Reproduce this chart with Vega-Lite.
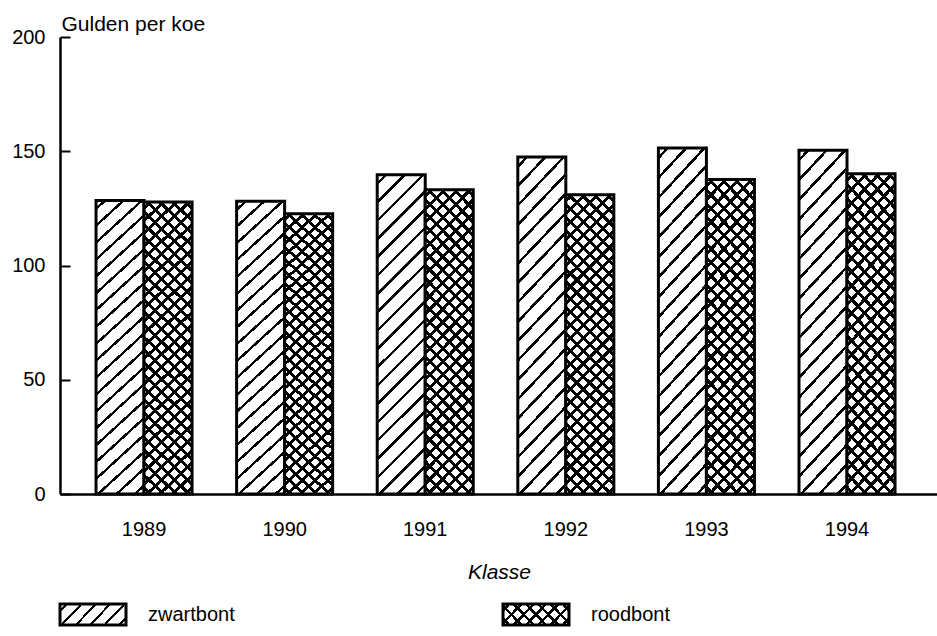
{
  "$schema": "https://vega.github.io/schema/vega-lite/v6.json",
  "padding": {"left": 11, "top": 13, "right": 0, "bottom": 0},
  "background": "white",
  "config": {
    "view": {"stroke": null},
    "font": "Liberation Sans",
    "concat": {"spacing": 20},
    "axis": {"labelColor": "#000", "titleColor": "#000", "domainColor": "#000", "tickColor": "#000", "grid": false}
  },
  "vconcat": [
    {
      "width": 878,
      "height": 457,
      "data": {"values": [
        {"year": "1989", "type": "zwartbont", "value": 128.5},
        {"year": "1989", "type": "roodbont", "value": 127.8},
        {"year": "1990", "type": "zwartbont", "value": 128.1},
        {"year": "1990", "type": "roodbont", "value": 122.7},
        {"year": "1991", "type": "zwartbont", "value": 139.7},
        {"year": "1991", "type": "roodbont", "value": 133.2},
        {"year": "1992", "type": "zwartbont", "value": 147.5},
        {"year": "1992", "type": "roodbont", "value": 131.0},
        {"year": "1993", "type": "zwartbont", "value": 151.4},
        {"year": "1993", "type": "roodbont", "value": 137.6},
        {"year": "1994", "type": "zwartbont", "value": 150.4},
        {"year": "1994", "type": "roodbont", "value": 140.2}
      ]},
      "encoding": {
        "x": {
          "field": "year", "type": "nominal",
          "scale": {"paddingInner": 0.317, "paddingOuter": 0.281, "align": 0.456},
          "axis": {"title": "Klasse", "labelAngle": 0, "ticks": false, "tickSize": 0, "labelPadding": 25, "labelFontSize": 20, "domainWidth": 2.5, "titleFontSize": 21, "titleFontStyle": "italic", "titleFontWeight": "normal", "titlePadding": 22}
        },
        "xOffset": {"field": "type", "type": "nominal", "scale": {"domain": ["zwartbont", "roodbont"], "paddingInner": 0, "paddingOuter": 0}},
        "y": {
          "field": "value", "type": "quantitative",
          "scale": {"domain": [0, 200]},
          "axis": {"values": [0, 50, 100, 150, 200], "title": "Gulden per koe", "titleAngle": 0, "titleAlign": "left", "titleBaseline": "alphabetic", "titleX": 1, "titleY": -7, "titleFontSize": 21, "titleFontWeight": "normal", "labelFontSize": 20, "domainWidth": 2.5, "tickSize": -10, "tickWidth": 2, "labelPadding": 25}
        }
      },
      "layer": [
        {
          "transform": [{"filter": "datum.type === 'zwartbont'"}],
          "mark": {"type": "bar", "stroke": "#000", "strokeWidth": 3, "fill": {"gradient": "linear", "x1": 0, "y1": 0, "x2": 0.1687, "y2": 1.1248, "stops": [
            {"offset": 0, "color": "#fff"},
            {"offset": 0.0202, "color": "#fff"}, {"offset": 0.0202, "color": "#000"}, {"offset": 0.0298, "color": "#000"}, {"offset": 0.0298, "color": "#fff"},
            {"offset": 0.0702, "color": "#fff"}, {"offset": 0.0702, "color": "#000"}, {"offset": 0.0798, "color": "#000"}, {"offset": 0.0798, "color": "#fff"},
            {"offset": 0.1202, "color": "#fff"}, {"offset": 0.1202, "color": "#000"}, {"offset": 0.1298, "color": "#000"}, {"offset": 0.1298, "color": "#fff"},
            {"offset": 0.1702, "color": "#fff"}, {"offset": 0.1702, "color": "#000"}, {"offset": 0.1798, "color": "#000"}, {"offset": 0.1798, "color": "#fff"},
            {"offset": 0.2202, "color": "#fff"}, {"offset": 0.2202, "color": "#000"}, {"offset": 0.2298, "color": "#000"}, {"offset": 0.2298, "color": "#fff"},
            {"offset": 0.2702, "color": "#fff"}, {"offset": 0.2702, "color": "#000"}, {"offset": 0.2798, "color": "#000"}, {"offset": 0.2798, "color": "#fff"},
            {"offset": 0.3202, "color": "#fff"}, {"offset": 0.3202, "color": "#000"}, {"offset": 0.3298, "color": "#000"}, {"offset": 0.3298, "color": "#fff"},
            {"offset": 0.3702, "color": "#fff"}, {"offset": 0.3702, "color": "#000"}, {"offset": 0.3798, "color": "#000"}, {"offset": 0.3798, "color": "#fff"},
            {"offset": 0.4202, "color": "#fff"}, {"offset": 0.4202, "color": "#000"}, {"offset": 0.4298, "color": "#000"}, {"offset": 0.4298, "color": "#fff"},
            {"offset": 0.4702, "color": "#fff"}, {"offset": 0.4702, "color": "#000"}, {"offset": 0.4798, "color": "#000"}, {"offset": 0.4798, "color": "#fff"},
            {"offset": 0.5202, "color": "#fff"}, {"offset": 0.5202, "color": "#000"}, {"offset": 0.5298, "color": "#000"}, {"offset": 0.5298, "color": "#fff"},
            {"offset": 0.5702, "color": "#fff"}, {"offset": 0.5702, "color": "#000"}, {"offset": 0.5798, "color": "#000"}, {"offset": 0.5798, "color": "#fff"},
            {"offset": 0.6202, "color": "#fff"}, {"offset": 0.6202, "color": "#000"}, {"offset": 0.6298, "color": "#000"}, {"offset": 0.6298, "color": "#fff"},
            {"offset": 0.6702, "color": "#fff"}, {"offset": 0.6702, "color": "#000"}, {"offset": 0.6798, "color": "#000"}, {"offset": 0.6798, "color": "#fff"},
            {"offset": 0.7202, "color": "#fff"}, {"offset": 0.7202, "color": "#000"}, {"offset": 0.7298, "color": "#000"}, {"offset": 0.7298, "color": "#fff"},
            {"offset": 0.7702, "color": "#fff"}, {"offset": 0.7702, "color": "#000"}, {"offset": 0.7798, "color": "#000"}, {"offset": 0.7798, "color": "#fff"},
            {"offset": 0.8202, "color": "#fff"}, {"offset": 0.8202, "color": "#000"}, {"offset": 0.8298, "color": "#000"}, {"offset": 0.8298, "color": "#fff"},
            {"offset": 0.8702, "color": "#fff"}, {"offset": 0.8702, "color": "#000"}, {"offset": 0.8798, "color": "#000"}, {"offset": 0.8798, "color": "#fff"},
            {"offset": 0.9202, "color": "#fff"}, {"offset": 0.9202, "color": "#000"}, {"offset": 0.9298, "color": "#000"}, {"offset": 0.9298, "color": "#fff"},
            {"offset": 0.9702, "color": "#fff"}, {"offset": 0.9702, "color": "#000"}, {"offset": 0.9798, "color": "#000"}, {"offset": 0.9798, "color": "#fff"},
            {"offset": 1, "color": "#fff"}
          ]}}
        },
        {
          "transform": [{"filter": "datum.type === 'roodbont'"}],
          "mark": {"type": "bar", "stroke": "#000", "strokeWidth": 3, "fill": {"gradient": "linear", "x1": 0, "y1": 0, "x2": 0.181, "y2": 1.1311, "stops": [
            {"offset": 0, "color": "#fff"},
            {"offset": 0.0125, "color": "#fff"}, {"offset": 0.0125, "color": "#000"}, {"offset": 0.0245, "color": "#000"}, {"offset": 0.0245, "color": "#fff"},
            {"offset": 0.0496, "color": "#fff"}, {"offset": 0.0496, "color": "#000"}, {"offset": 0.0616, "color": "#000"}, {"offset": 0.0616, "color": "#fff"},
            {"offset": 0.0866, "color": "#fff"}, {"offset": 0.0866, "color": "#000"}, {"offset": 0.0986, "color": "#000"}, {"offset": 0.0986, "color": "#fff"},
            {"offset": 0.1236, "color": "#fff"}, {"offset": 0.1236, "color": "#000"}, {"offset": 0.1356, "color": "#000"}, {"offset": 0.1356, "color": "#fff"},
            {"offset": 0.1607, "color": "#fff"}, {"offset": 0.1607, "color": "#000"}, {"offset": 0.1727, "color": "#000"}, {"offset": 0.1727, "color": "#fff"},
            {"offset": 0.1977, "color": "#fff"}, {"offset": 0.1977, "color": "#000"}, {"offset": 0.2097, "color": "#000"}, {"offset": 0.2097, "color": "#fff"},
            {"offset": 0.2347, "color": "#fff"}, {"offset": 0.2347, "color": "#000"}, {"offset": 0.2467, "color": "#000"}, {"offset": 0.2467, "color": "#fff"},
            {"offset": 0.2718, "color": "#fff"}, {"offset": 0.2718, "color": "#000"}, {"offset": 0.2838, "color": "#000"}, {"offset": 0.2838, "color": "#fff"},
            {"offset": 0.3088, "color": "#fff"}, {"offset": 0.3088, "color": "#000"}, {"offset": 0.3208, "color": "#000"}, {"offset": 0.3208, "color": "#fff"},
            {"offset": 0.3459, "color": "#fff"}, {"offset": 0.3459, "color": "#000"}, {"offset": 0.3579, "color": "#000"}, {"offset": 0.3579, "color": "#fff"},
            {"offset": 0.3829, "color": "#fff"}, {"offset": 0.3829, "color": "#000"}, {"offset": 0.3949, "color": "#000"}, {"offset": 0.3949, "color": "#fff"},
            {"offset": 0.4199, "color": "#fff"}, {"offset": 0.4199, "color": "#000"}, {"offset": 0.4319, "color": "#000"}, {"offset": 0.4319, "color": "#fff"},
            {"offset": 0.457, "color": "#fff"}, {"offset": 0.457, "color": "#000"}, {"offset": 0.469, "color": "#000"}, {"offset": 0.469, "color": "#fff"},
            {"offset": 0.494, "color": "#fff"}, {"offset": 0.494, "color": "#000"}, {"offset": 0.506, "color": "#000"}, {"offset": 0.506, "color": "#fff"},
            {"offset": 0.531, "color": "#fff"}, {"offset": 0.531, "color": "#000"}, {"offset": 0.543, "color": "#000"}, {"offset": 0.543, "color": "#fff"},
            {"offset": 0.5681, "color": "#fff"}, {"offset": 0.5681, "color": "#000"}, {"offset": 0.5801, "color": "#000"}, {"offset": 0.5801, "color": "#fff"},
            {"offset": 0.6051, "color": "#fff"}, {"offset": 0.6051, "color": "#000"}, {"offset": 0.6171, "color": "#000"}, {"offset": 0.6171, "color": "#fff"},
            {"offset": 0.6422, "color": "#fff"}, {"offset": 0.6422, "color": "#000"}, {"offset": 0.6542, "color": "#000"}, {"offset": 0.6542, "color": "#fff"},
            {"offset": 0.6792, "color": "#fff"}, {"offset": 0.6792, "color": "#000"}, {"offset": 0.6912, "color": "#000"}, {"offset": 0.6912, "color": "#fff"},
            {"offset": 0.7162, "color": "#fff"}, {"offset": 0.7162, "color": "#000"}, {"offset": 0.7282, "color": "#000"}, {"offset": 0.7282, "color": "#fff"},
            {"offset": 0.7533, "color": "#fff"}, {"offset": 0.7533, "color": "#000"}, {"offset": 0.7653, "color": "#000"}, {"offset": 0.7653, "color": "#fff"},
            {"offset": 0.7903, "color": "#fff"}, {"offset": 0.7903, "color": "#000"}, {"offset": 0.8023, "color": "#000"}, {"offset": 0.8023, "color": "#fff"},
            {"offset": 0.8273, "color": "#fff"}, {"offset": 0.8273, "color": "#000"}, {"offset": 0.8393, "color": "#000"}, {"offset": 0.8393, "color": "#fff"},
            {"offset": 0.8644, "color": "#fff"}, {"offset": 0.8644, "color": "#000"}, {"offset": 0.8764, "color": "#000"}, {"offset": 0.8764, "color": "#fff"},
            {"offset": 0.9014, "color": "#fff"}, {"offset": 0.9014, "color": "#000"}, {"offset": 0.9134, "color": "#000"}, {"offset": 0.9134, "color": "#fff"},
            {"offset": 0.9384, "color": "#fff"}, {"offset": 0.9384, "color": "#000"}, {"offset": 0.9504, "color": "#000"}, {"offset": 0.9504, "color": "#fff"},
            {"offset": 0.9755, "color": "#fff"}, {"offset": 0.9755, "color": "#000"}, {"offset": 0.9875, "color": "#000"}, {"offset": 0.9875, "color": "#fff"},
            {"offset": 1, "color": "#fff"}
          ]}}
        },
        {
          "transform": [{"filter": "datum.type === 'roodbont'"}],
          "mark": {"type": "bar", "strokeWidth": 0, "fill": {"gradient": "linear", "x1": 0, "y1": 1, "x2": 0.181, "y2": -0.1311, "stops": [
            {"offset": 0, "color": "rgba(0,0,0,0)"},
            {"offset": 0.0125, "color": "rgba(0,0,0,0)"}, {"offset": 0.0125, "color": "#000"}, {"offset": 0.0245, "color": "#000"}, {"offset": 0.0245, "color": "rgba(0,0,0,0)"},
            {"offset": 0.0496, "color": "rgba(0,0,0,0)"}, {"offset": 0.0496, "color": "#000"}, {"offset": 0.0616, "color": "#000"}, {"offset": 0.0616, "color": "rgba(0,0,0,0)"},
            {"offset": 0.0866, "color": "rgba(0,0,0,0)"}, {"offset": 0.0866, "color": "#000"}, {"offset": 0.0986, "color": "#000"}, {"offset": 0.0986, "color": "rgba(0,0,0,0)"},
            {"offset": 0.1236, "color": "rgba(0,0,0,0)"}, {"offset": 0.1236, "color": "#000"}, {"offset": 0.1356, "color": "#000"}, {"offset": 0.1356, "color": "rgba(0,0,0,0)"},
            {"offset": 0.1607, "color": "rgba(0,0,0,0)"}, {"offset": 0.1607, "color": "#000"}, {"offset": 0.1727, "color": "#000"}, {"offset": 0.1727, "color": "rgba(0,0,0,0)"},
            {"offset": 0.1977, "color": "rgba(0,0,0,0)"}, {"offset": 0.1977, "color": "#000"}, {"offset": 0.2097, "color": "#000"}, {"offset": 0.2097, "color": "rgba(0,0,0,0)"},
            {"offset": 0.2347, "color": "rgba(0,0,0,0)"}, {"offset": 0.2347, "color": "#000"}, {"offset": 0.2467, "color": "#000"}, {"offset": 0.2467, "color": "rgba(0,0,0,0)"},
            {"offset": 0.2718, "color": "rgba(0,0,0,0)"}, {"offset": 0.2718, "color": "#000"}, {"offset": 0.2838, "color": "#000"}, {"offset": 0.2838, "color": "rgba(0,0,0,0)"},
            {"offset": 0.3088, "color": "rgba(0,0,0,0)"}, {"offset": 0.3088, "color": "#000"}, {"offset": 0.3208, "color": "#000"}, {"offset": 0.3208, "color": "rgba(0,0,0,0)"},
            {"offset": 0.3459, "color": "rgba(0,0,0,0)"}, {"offset": 0.3459, "color": "#000"}, {"offset": 0.3579, "color": "#000"}, {"offset": 0.3579, "color": "rgba(0,0,0,0)"},
            {"offset": 0.3829, "color": "rgba(0,0,0,0)"}, {"offset": 0.3829, "color": "#000"}, {"offset": 0.3949, "color": "#000"}, {"offset": 0.3949, "color": "rgba(0,0,0,0)"},
            {"offset": 0.4199, "color": "rgba(0,0,0,0)"}, {"offset": 0.4199, "color": "#000"}, {"offset": 0.4319, "color": "#000"}, {"offset": 0.4319, "color": "rgba(0,0,0,0)"},
            {"offset": 0.457, "color": "rgba(0,0,0,0)"}, {"offset": 0.457, "color": "#000"}, {"offset": 0.469, "color": "#000"}, {"offset": 0.469, "color": "rgba(0,0,0,0)"},
            {"offset": 0.494, "color": "rgba(0,0,0,0)"}, {"offset": 0.494, "color": "#000"}, {"offset": 0.506, "color": "#000"}, {"offset": 0.506, "color": "rgba(0,0,0,0)"},
            {"offset": 0.531, "color": "rgba(0,0,0,0)"}, {"offset": 0.531, "color": "#000"}, {"offset": 0.543, "color": "#000"}, {"offset": 0.543, "color": "rgba(0,0,0,0)"},
            {"offset": 0.5681, "color": "rgba(0,0,0,0)"}, {"offset": 0.5681, "color": "#000"}, {"offset": 0.5801, "color": "#000"}, {"offset": 0.5801, "color": "rgba(0,0,0,0)"},
            {"offset": 0.6051, "color": "rgba(0,0,0,0)"}, {"offset": 0.6051, "color": "#000"}, {"offset": 0.6171, "color": "#000"}, {"offset": 0.6171, "color": "rgba(0,0,0,0)"},
            {"offset": 0.6422, "color": "rgba(0,0,0,0)"}, {"offset": 0.6422, "color": "#000"}, {"offset": 0.6542, "color": "#000"}, {"offset": 0.6542, "color": "rgba(0,0,0,0)"},
            {"offset": 0.6792, "color": "rgba(0,0,0,0)"}, {"offset": 0.6792, "color": "#000"}, {"offset": 0.6912, "color": "#000"}, {"offset": 0.6912, "color": "rgba(0,0,0,0)"},
            {"offset": 0.7162, "color": "rgba(0,0,0,0)"}, {"offset": 0.7162, "color": "#000"}, {"offset": 0.7282, "color": "#000"}, {"offset": 0.7282, "color": "rgba(0,0,0,0)"},
            {"offset": 0.7533, "color": "rgba(0,0,0,0)"}, {"offset": 0.7533, "color": "#000"}, {"offset": 0.7653, "color": "#000"}, {"offset": 0.7653, "color": "rgba(0,0,0,0)"},
            {"offset": 0.7903, "color": "rgba(0,0,0,0)"}, {"offset": 0.7903, "color": "#000"}, {"offset": 0.8023, "color": "#000"}, {"offset": 0.8023, "color": "rgba(0,0,0,0)"},
            {"offset": 0.8273, "color": "rgba(0,0,0,0)"}, {"offset": 0.8273, "color": "#000"}, {"offset": 0.8393, "color": "#000"}, {"offset": 0.8393, "color": "rgba(0,0,0,0)"},
            {"offset": 0.8644, "color": "rgba(0,0,0,0)"}, {"offset": 0.8644, "color": "#000"}, {"offset": 0.8764, "color": "#000"}, {"offset": 0.8764, "color": "rgba(0,0,0,0)"},
            {"offset": 0.9014, "color": "rgba(0,0,0,0)"}, {"offset": 0.9014, "color": "#000"}, {"offset": 0.9134, "color": "#000"}, {"offset": 0.9134, "color": "rgba(0,0,0,0)"},
            {"offset": 0.9384, "color": "rgba(0,0,0,0)"}, {"offset": 0.9384, "color": "#000"}, {"offset": 0.9504, "color": "#000"}, {"offset": 0.9504, "color": "rgba(0,0,0,0)"},
            {"offset": 0.9755, "color": "rgba(0,0,0,0)"}, {"offset": 0.9755, "color": "#000"}, {"offset": 0.9875, "color": "#000"}, {"offset": 0.9875, "color": "rgba(0,0,0,0)"},
            {"offset": 1, "color": "rgba(0,0,0,0)"}
          ]}}
        }
      ]
    },
    {
      "width": 509,
      "height": 21,
      "data": {"values": [{"type": "zwartbont"}, {"type": "roodbont"}]},
      "encoding": {
        "x": {"field": "type", "type": "nominal", "scale": {"domain": ["zwartbont", "roodbont"], "paddingInner": 0.851, "paddingOuter": 0}, "axis": null}
      },
      "layer": [
        {
          "transform": [{"filter": "datum.type === 'zwartbont'"}],
          "mark": {"type": "rect", "stroke": "#000", "strokeWidth": 3, "fill": {"gradient": "linear", "x1": 0, "y1": 0, "x2": 1.1935, "y2": 0.3616, "stops": [
            {"offset": 0, "color": "#fff"},
            {"offset": 0.0668, "color": "#fff"}, {"offset": 0.0668, "color": "#000"}, {"offset": 0.0998, "color": "#000"}, {"offset": 0.0998, "color": "#fff"},
            {"offset": 0.2335, "color": "#fff"}, {"offset": 0.2335, "color": "#000"}, {"offset": 0.2665, "color": "#000"}, {"offset": 0.2665, "color": "#fff"},
            {"offset": 0.4002, "color": "#fff"}, {"offset": 0.4002, "color": "#000"}, {"offset": 0.4332, "color": "#000"}, {"offset": 0.4332, "color": "#fff"},
            {"offset": 0.5668, "color": "#fff"}, {"offset": 0.5668, "color": "#000"}, {"offset": 0.5998, "color": "#000"}, {"offset": 0.5998, "color": "#fff"},
            {"offset": 0.7335, "color": "#fff"}, {"offset": 0.7335, "color": "#000"}, {"offset": 0.7665, "color": "#000"}, {"offset": 0.7665, "color": "#fff"},
            {"offset": 0.9002, "color": "#fff"}, {"offset": 0.9002, "color": "#000"}, {"offset": 0.9332, "color": "#000"}, {"offset": 0.9332, "color": "#fff"},
            {"offset": 1, "color": "#fff"}
          ]}}
        },
        {
          "transform": [{"filter": "datum.type === 'roodbont'"}],
          "mark": {"type": "rect", "stroke": "#000", "strokeWidth": 3, "fill": {"gradient": "linear", "x1": 0, "y1": 0, "x2": 1.1935, "y2": 0.3616, "stops": [
            {"offset": 0, "color": "#fff"},
            {"offset": 0.0509, "color": "#fff"}, {"offset": 0.0509, "color": "#000"}, {"offset": 0.0919, "color": "#000"}, {"offset": 0.0919, "color": "#fff"},
            {"offset": 0.1938, "color": "#fff"}, {"offset": 0.1938, "color": "#000"}, {"offset": 0.2348, "color": "#000"}, {"offset": 0.2348, "color": "#fff"},
            {"offset": 0.3366, "color": "#fff"}, {"offset": 0.3366, "color": "#000"}, {"offset": 0.3776, "color": "#000"}, {"offset": 0.3776, "color": "#fff"},
            {"offset": 0.4795, "color": "#fff"}, {"offset": 0.4795, "color": "#000"}, {"offset": 0.5205, "color": "#000"}, {"offset": 0.5205, "color": "#fff"},
            {"offset": 0.6224, "color": "#fff"}, {"offset": 0.6224, "color": "#000"}, {"offset": 0.6634, "color": "#000"}, {"offset": 0.6634, "color": "#fff"},
            {"offset": 0.7652, "color": "#fff"}, {"offset": 0.7652, "color": "#000"}, {"offset": 0.8062, "color": "#000"}, {"offset": 0.8062, "color": "#fff"},
            {"offset": 0.9081, "color": "#fff"}, {"offset": 0.9081, "color": "#000"}, {"offset": 0.9491, "color": "#000"}, {"offset": 0.9491, "color": "#fff"},
            {"offset": 1, "color": "#fff"}
          ]}}
        },
        {
          "transform": [{"filter": "datum.type === 'roodbont'"}],
          "mark": {"type": "rect", "strokeWidth": 0, "fill": {"gradient": "linear", "x1": 0, "y1": 1, "x2": 1.1935, "y2": 0.6384, "stops": [
            {"offset": 0, "color": "rgba(0,0,0,0)"},
            {"offset": 0.0509, "color": "rgba(0,0,0,0)"}, {"offset": 0.0509, "color": "#000"}, {"offset": 0.0919, "color": "#000"}, {"offset": 0.0919, "color": "rgba(0,0,0,0)"},
            {"offset": 0.1938, "color": "rgba(0,0,0,0)"}, {"offset": 0.1938, "color": "#000"}, {"offset": 0.2348, "color": "#000"}, {"offset": 0.2348, "color": "rgba(0,0,0,0)"},
            {"offset": 0.3366, "color": "rgba(0,0,0,0)"}, {"offset": 0.3366, "color": "#000"}, {"offset": 0.3776, "color": "#000"}, {"offset": 0.3776, "color": "rgba(0,0,0,0)"},
            {"offset": 0.4795, "color": "rgba(0,0,0,0)"}, {"offset": 0.4795, "color": "#000"}, {"offset": 0.5205, "color": "#000"}, {"offset": 0.5205, "color": "rgba(0,0,0,0)"},
            {"offset": 0.6224, "color": "rgba(0,0,0,0)"}, {"offset": 0.6224, "color": "#000"}, {"offset": 0.6634, "color": "#000"}, {"offset": 0.6634, "color": "rgba(0,0,0,0)"},
            {"offset": 0.7652, "color": "rgba(0,0,0,0)"}, {"offset": 0.7652, "color": "#000"}, {"offset": 0.8062, "color": "#000"}, {"offset": 0.8062, "color": "rgba(0,0,0,0)"},
            {"offset": 0.9081, "color": "rgba(0,0,0,0)"}, {"offset": 0.9081, "color": "#000"}, {"offset": 0.9491, "color": "#000"}, {"offset": 0.9491, "color": "rgba(0,0,0,0)"},
            {"offset": 1, "color": "rgba(0,0,0,0)"}
          ]}}
        },
        {
          "mark": {"type": "text", "align": "left", "baseline": "middle", "dx": 55, "fontSize": 20, "color": "#000"},
          "encoding": {"text": {"field": "type"}}
        }
      ]
    }
  ]
}
